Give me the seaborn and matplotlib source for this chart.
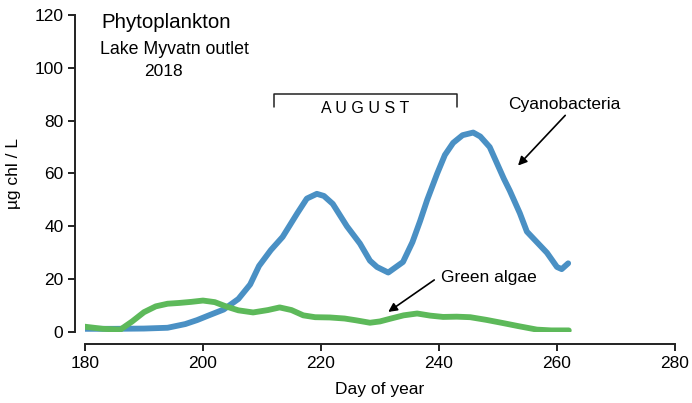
import numpy as np
import pandas as pd
import matplotlib
matplotlib.use("Agg")
import matplotlib.pyplot as plt
import seaborn as sns

# values (day of year, ug chl / L)
cyano_day = [180, 185, 190, 194, 197, 199, 201, 203.5, 206, 208, 209.5, 211.5, 213.5,
             216, 217.6, 219.3, 220.5, 222, 224.4, 226.6, 228.3, 229.5, 231.4, 233.9,
             235.5, 236.8, 238, 239.7, 241, 242.4, 244, 245.8, 247, 248.6, 250, 251,
             252, 253.7, 254.9, 256.6, 258.3, 260, 260.8, 261.9]
cyano_val = [1.2, 1.2, 1.3, 1.6, 3, 4.5, 6.3, 8.5, 12.5, 18, 25, 31, 36,
             45, 50.5, 52.3, 51.5, 48.5, 40, 33.5, 27, 24.6, 22.5, 26.5,
             34, 42, 50, 60, 67, 71.6, 74.5, 75.5, 74, 70, 63, 58,
             53.5, 45, 38, 34, 30, 24.6, 23.8, 26]

green_day = [180, 183, 186, 188, 190, 192, 194, 196, 198, 200, 202, 204, 206, 208.5,
             211, 213, 215, 217, 219, 221.5, 224, 226, 228.3, 230, 231.7, 234, 236.3,
             238.5, 240.7, 243, 245.3, 248, 250.8, 253.5, 256.6, 259, 262]
green_val = [2, 1.2, 0.9, 4, 7.5, 9.7, 10.7, 11, 11.4, 11.9, 11.3, 9.6, 8.2, 7.4,
             8.3, 9.3, 8.3, 6.3, 5.6, 5.5, 5.1, 4.4, 3.5, 4, 5, 6.3, 7,
             6.2, 5.7, 5.8, 5.6, 4.6, 3.4, 2.2, 0.9, 0.6, 0.6]

blue = "#4a90c4"
green = "#5db95a"

sns.set_style("ticks", {"text.color": "black", "axes.labelcolor": "black",
                        "xtick.color": "#222222", "ytick.color": "#222222"})
plt.rcParams["font.family"] = ["Liberation Sans", "DejaVu Sans"]

fig = plt.figure(figsize=(6.92, 4.03), dpi=100)
ax = fig.add_axes([0.1228, 0.1762, 0.8526, 0.7866])

sns.lineplot(x=cyano_day, y=cyano_val, ax=ax, color=blue, linewidth=4.2,
             solid_capstyle="round", solid_joinstyle="round")
sns.lineplot(x=green_day, y=green_val, ax=ax, color=green, linewidth=4.2,
             solid_capstyle="round", solid_joinstyle="round")

ax.set_xlim(180, 280)
ax.set_ylim(0, 120)
ax.set_xticks(range(180, 281, 20))
ax.set_yticks(range(0, 121, 20))
ax.tick_params(labelsize=12.5, length=5, width=1.4, labelcolor="black")
for s in ["left", "bottom"]:
    ax.spines[s].set_linewidth(1.4)
    ax.spines[s].set_color("#222222")
sns.despine(ax=ax, offset={"left": 7, "bottom": 9})

ax.set_xlabel("Day of year", fontsize=12.5, labelpad=8, color="black")
ax.set_ylabel("µg chl / L", fontsize=12.5, labelpad=10, color="black")

# titles
ax.text(193.8, 117, "Phytoplankton", fontsize=14.8, ha="center", va="center", color="black")
ax.text(195.2, 107, "Lake Myvatn outlet", fontsize=12.8, ha="center", va="center", color="black")
ax.text(193.3, 98.5, "2018", fontsize=12.5, ha="center", va="center", color="black")

# august bracket
ax.plot([212, 212, 243, 243], [85, 90, 90, 85], color="#222222", linewidth=1.1)
ax.text(227.5, 84.5, "A U G U S T", fontsize=11.5, ha="center", va="center", color="black")

# annotations
arrow = dict(arrowstyle="-|>", color="black", lw=1.2, shrinkA=0, shrinkB=0,
             mutation_scale=13)
ax.text(261.3, 86, "Cyanobacteria", fontsize=12.5, ha="center", va="center", color="black")
ax.annotate("", xy=(253.4, 63), xytext=(261.4, 82), arrowprops=arrow)
ax.text(248.5, 20.5, "Green algae", fontsize=12.5, ha="center", va="center", color="black")
ax.annotate("", xy=(231.4, 7.6), xytext=(239.2, 19.7), arrowprops=arrow)

fig.savefig("out.png", dpi=100)
